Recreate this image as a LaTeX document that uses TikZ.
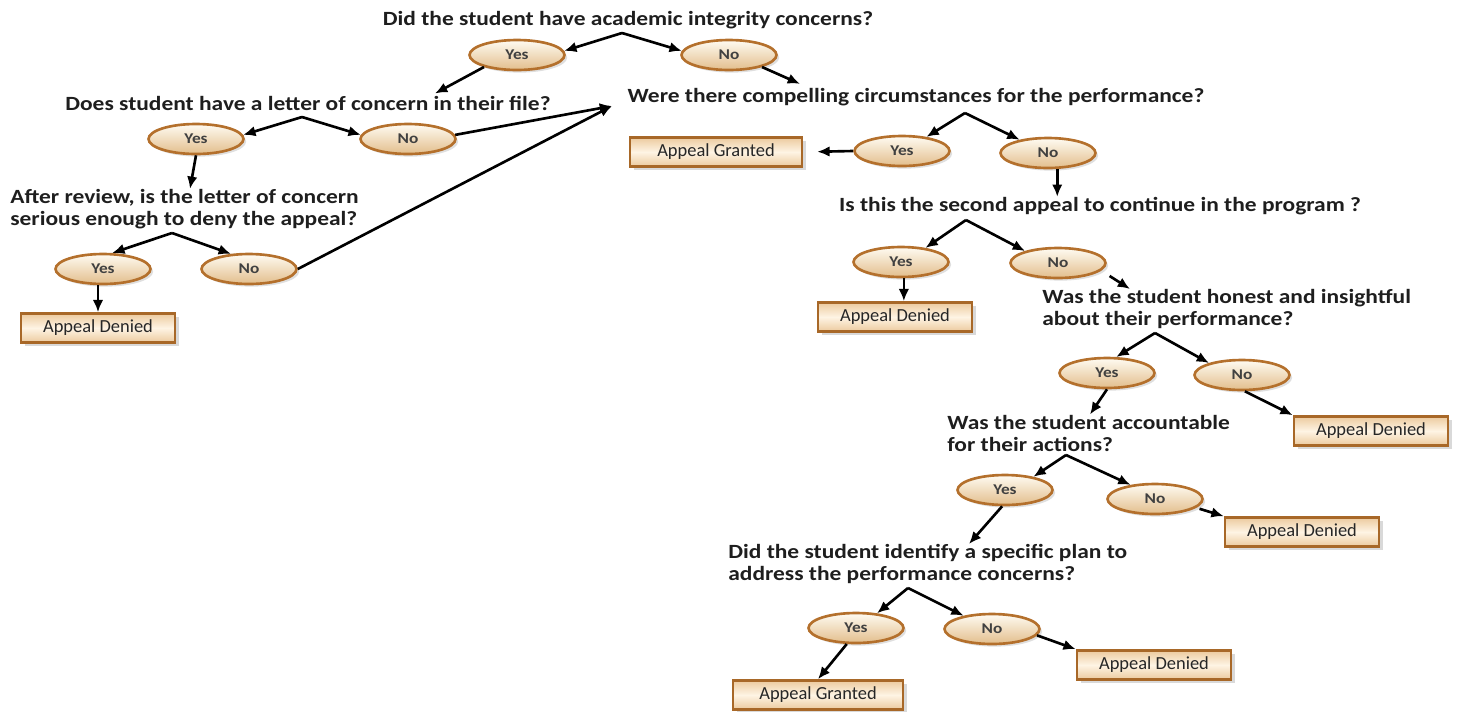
\documentclass[tikz,border=0pt]{standalone}
\usepackage{fontspec}
\setmainfont{Carlito}
\newfontfamily\qfont{Carlito}[FakeStretch=1.16]
\usetikzlibrary{%
	calc,%
	arrows.meta,%
	shapes,%
	shadows
}
\definecolor{ansbrown}{RGB}{180,112,44}
\definecolor{anstan}{RGB}{226,190,140}
\definecolor{anslight}{RGB}{255,251,242}
\definecolor{resbrown}{RGB}{168,104,40}
\definecolor{restan}{RGB}{236,202,158}
\definecolor{reslight}{RGB}{254,244,228}
\definecolor{qtext}{RGB}{30,30,30}

\begin{document}
\begin{tikzpicture}[x=0.02cm,y=-0.02cm,
		ques/.style={font=\qfont\fontsize{11.5}{12.5}\selectfont\bfseries,text=qtext,inner sep=0pt,align=left},
		ans/.style={ellipse,draw=ansbrown,line width=1.5pt,top color=anslight,bottom color=anstan,
			minimum width=1.9cm,minimum height=0.6cm,inner sep=0pt,text=black!75,
			font=\qfont\fontsize{8.5}{9}\selectfont\bfseries,
			drop shadow={opacity=0.25,shadow xshift=1.5pt,shadow yshift=-1.5pt}},
		res/.style={rectangle,draw=resbrown,line width=1.5pt,top color=restan,bottom color=restan,
			middle color=reslight,minimum width=3.08cm,minimum height=0.58cm,inner sep=0pt,
			font=\fontsize{10.5}{12}\selectfont,text=black!85,
			drop shadow={opacity=0.3,shadow xshift=2pt,shadow yshift=-2pt}},
		arr/.style={-{Latex[length=7pt,width=6pt]},line width=1.5pt}]
			\useasboundingbox (0,0) rectangle (1457,711);
			% Questions
			\node[ques] (q1) at (628,20) {Did the student have academic integrity concerns?};
			\node[ques] (q2) at (308,103) {Does student have a letter of concern in their file?};
			\node[ques,anchor=west] (q3) at (10,209) {After review, is the letter of concern\\serious enough to deny the appeal?};
			\node[ques] (q4) at (916,97) {Were there compelling circumstances for the performance?};
			\node[ques] (q5) at (1100,206) {Is this the second appeal to continue in the program ?};
			\node[ques,anchor=west] (q6) at (1042,309) {Was the student honest and insightful\\about their performance?};
			\node[ques,anchor=west] (q7) at (947,433) {Was the student accountable\\for their actions?};
			\node[ques,anchor=west] (q8) at (728,564) {Did the student identify a specific plan to\\address the performance concerns?};
			
			% Split points under the questions
			\coordinate (a1) at (622,33);
			\coordinate (a2) at (302,117);
			\coordinate (a3) at (172,233);
			\coordinate (a4) at (965,113);
			\coordinate (a5) at (966,220);
			\coordinate (a6) at (1155,333);
			\coordinate (a7) at (1066,455);
			\coordinate (a8) at (908,588);
			\coordinate (m) at (612,106);
			
			% Answers
			\node[ans] (y1) at (517,55) {Yes};
			\node[ans] (n1) at (729,55) {No};
			\node[ans] (y2) at (196,139) {Yes};
			\node[ans] (n2) at (408,139) {No};
			\node[ans] (y3) at (103,269) {Yes};
			\node[ans] (n3) at (249,269) {No};
			\node[ans] (y4) at (902,151) {Yes};
			\node[ans] (n4) at (1048,153) {No};
			\node[ans] (y5) at (901,262) {Yes};
			\node[ans] (n5) at (1058,263) {No};
			\node[ans] (y6) at (1107,373) {Yes};
			\node[ans] (n6) at (1242,375) {No};
			\node[ans] (y7) at (1005,490) {Yes};
			\node[ans] (n7) at (1155,499) {No};
			\node[ans] (y8) at (856,628) {Yes};
			\node[ans] (n8) at (992,629) {No};
			
			% Outcomes
			\node[res,minimum width=3.44cm] (b1) at (716,152) {Appeal Granted};
			\node[res] (b2) at (98,328) {Appeal Denied};
			\node[res] (b3) at (895,317) {Appeal Denied};
			\node[res] (b4) at (1371,431) {Appeal Denied};
			\node[res] (b5) at (1302,532) {Appeal Denied};
			\node[res] (b6) at (1154,665) {Appeal Denied};
			\node[res,minimum width=3.4cm] (b7) at (818,695) {Appeal Granted};
			
			% Arrows
			\draw[arr] (a1) -- (y1.5);
			\draw[arr] (a1) -- (n1.175);
			\draw[arr] (y1.200) -- ($(q2.north)+(127,-2)$);
			\draw[arr] (n1.-20) -- ($(q4.north)+(-116,-4)$);
			
			\draw[arr] (a2) -- (y2.5);
			\draw[arr] (a2) -- (n2.175);
			\draw[arr] (y2.south) -- ($(q3.north west)+(180,0)$);
			\draw[arr] (n2.5) -- (m);
			
			\draw[arr] (a3) -- (y3.60);
			\draw[arr] (a3) -- (n3.140);
			\draw[arr] (y3.south -| b2.north) -- (b2.north);
			\draw[arr] (n3.east) -- (m);
			
			\draw[arr] (a4) -- (y4.30);
			\draw[arr] (a4) -- (n4.155);
			\draw[arr,shorten >=0.28cm] (y4.west) -- (b1.east);
			\draw[arr] (n4.-60) -- (n4.-60 |- q5.north);
			
			\draw[arr] (a5) -- (y5.30);
			\draw[arr] (a5) -- (n5.160);
			\draw[arr] (y5.-80) -- (y5.-80 |- b3.north);
			\draw[arr,shorten <=0.2cm] (n5.-10) -- ($(q6.north west)+(88,0)$);
			
			\draw[arr] (a6) -- (y6.60);
			\draw[arr] (a6) -- (n6.160);
			\draw[arr] (y6.south) -- ($(q7.north west)+(143,0)$);
			\draw[arr] (n6.-80) -- (b4.north west);
			
			\draw[arr] (a7) -- (y7.25);
			\draw[arr] (a7) -- (n7.150);
			\draw[arr] (y7.-100) -- ($(q8.north west)+(241,0)$);
			\draw[arr,shorten <=2pt] (n7.-12) -- (b5.north west);
			
			\draw[arr] (a8) -- (y8.35);
			\draw[arr] (a8) -- (n8.155);
			\draw[arr] (y8.-120) -- (b7.north);
			\draw[arr] (n8.-8) -- (b6.north west);
		\end{tikzpicture}
\end{document}
